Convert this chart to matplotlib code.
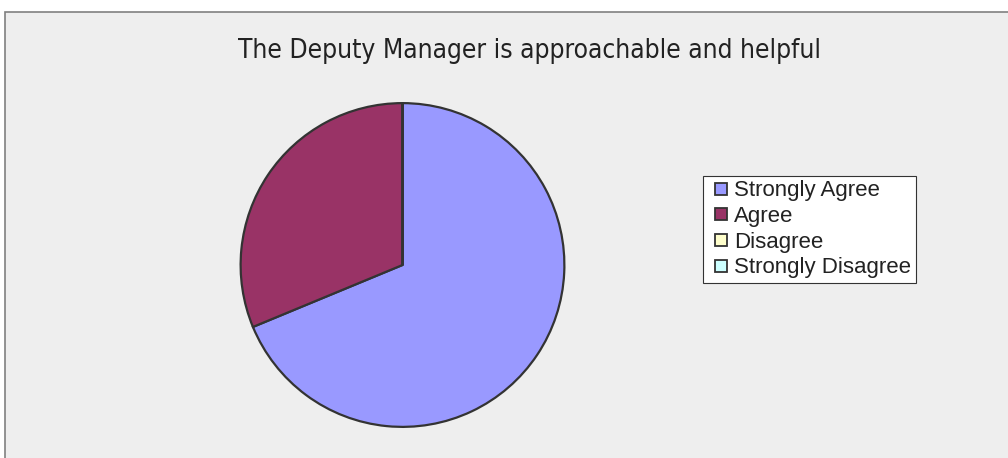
import matplotlib
matplotlib.use("Agg")
import matplotlib.pyplot as plt
from matplotlib.patches import Rectangle
from matplotlib.lines import Line2D

title = "The Deputy Manager is approachable and helpful"
labels = ["Strongly Agree", "Agree", "Disagree", "Strongly Disagree"]
counts = [11, 5, 0, 0]
colors = ["#9999FF", "#993366", "#FFFFCC", "#CCFFFF"]

W, H = 1008, 458
fig = plt.figure(figsize=(W / 100, H / 100), dpi=100)
fig.patch.set_facecolor("white")

# grey chart area with a frame that runs off the right and bottom edges
fig.patches.append(Rectangle((5 / W, -0.05), 1.1, 1 - 12 / H + 0.05,
                             transform=fig.transFigure, facecolor="#EEEEEE",
                             edgecolor="#808080", linewidth=1.2, zorder=-5))

fig.text(530 / W, 1 - 51 / H, title, ha="center", va="center",
         fontsize=18.9, color="#222222", fontstretch="condensed",
         family=["DejaVu Sans"])

# pie: centre (402.5, 265), radius 163.5 px
cx, cy, r = 402.5, 265, 163.5
ax = fig.add_axes([(cx - r) / W, 1 - (cy + r) / H, 2 * r / W, 2 * r / H])
ax.set_zorder(2)
ax.pie(counts, colors=colors, startangle=90, counterclock=False,
       wedgeprops=dict(edgecolor="#333333", linewidth=1.6))
ax.set_xlim(-1.01, 1.01)
ax.set_ylim(-1.01, 1.01)
ax.set_aspect("equal")
ax.axis("off")

handles = [Line2D([], [], linestyle="none", marker="s", markersize=8,
                  markerfacecolor=c, markeredgecolor="#333333",
                  markeredgewidth=1.3) for c in colors]
leg = fig.legend(handles, labels, loc="upper left",
                 bbox_to_anchor=(703 / W, 1 - 176 / H),
                 prop=dict(family="Liberation Sans", size=16),
                 handlelength=1.2, handletextpad=0.0,
                 labelspacing=0.21, borderpad=0.2, borderaxespad=0,
                 fancybox=False, framealpha=1, edgecolor="#333333")
leg.set_zorder(3)
leg.get_frame().set_linewidth(0.8)
for t in leg.get_texts():
    t.set_color("#222222")

fig.savefig("out.png", dpi=100, facecolor=fig.get_facecolor())
